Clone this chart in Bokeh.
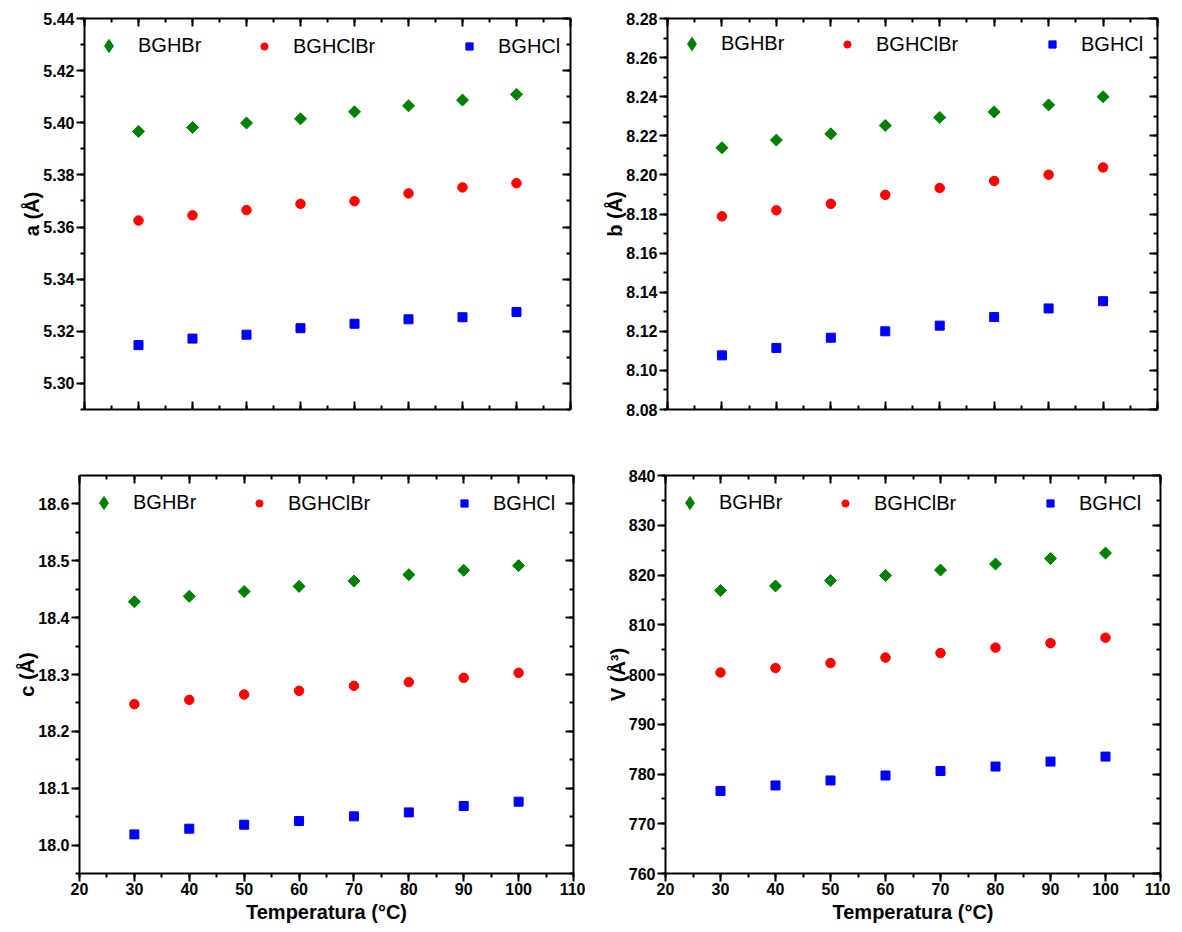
import math
from bokeh.plotting import figure
from bokeh.layouts import column, row
from bokeh.models import (LinearAxis, SingleIntervalTicker, Range1d, Legend, LegendItem,
                          CustomJSTickFormatter, NumeralTickFormatter)
from bokeh.embed import file_html
from bokeh.resources import INLINE

# ---------------- data ----------------
temperature = [30, 40, 50, 60, 70, 80, 90, 100]
series_names = ["BGHBr", "BGHClBr", "BGHCl"]

a_BGHBr = [5.3967, 5.3982, 5.3999, 5.4015, 5.4042, 5.4065, 5.4087, 5.4109]
a_BGHClBr = [5.3625, 5.3645, 5.3665, 5.3689, 5.3699, 5.3729, 5.3752, 5.3768]
a_BGHCl = [5.3147, 5.3172, 5.3187, 5.3212, 5.3229, 5.3246, 5.3254, 5.3274]

b_BGHBr = [8.2139, 8.2178, 8.2210, 8.2253, 8.2294, 8.2322, 8.2358, 8.2400]
b_BGHClBr = [8.1788, 8.1819, 8.1852, 8.1898, 8.1933, 8.1969, 8.2001, 8.2038]
b_BGHCl = [8.1077, 8.1115, 8.1167, 8.1200, 8.1229, 8.1273, 8.1317, 8.1354]

c_BGHBr = [18.428, 18.4375, 18.446, 18.455, 18.4645, 18.4756, 18.4833, 18.4915]
c_BGHClBr = [18.2478, 18.2554, 18.2648, 18.2713, 18.2801, 18.2866, 18.2942, 18.303]
c_BGHCl = [18.0188, 18.0288, 18.0358, 18.0423, 18.0505, 18.0575, 18.0687, 18.0763]

V_BGHBr = [816.9, 817.8, 818.9, 819.9, 821.0, 822.2, 823.3, 824.4]
V_BGHClBr = [800.4, 801.3, 802.3, 803.4, 804.3, 805.4, 806.3, 807.4]
V_BGHCl = [776.6, 777.7, 778.7, 779.7, 780.6, 781.5, 782.5, 783.5]

x_label = "Temperatura (°C)"
y_labels = ["a (Å)", "b (Å)", "c (Å)", "V (Å³)"]

# ---------------- style ----------------
FONT = "Liberation Sans"
GREEN = "#008000"
RED = "#FF0000"
BLUE = "#0000FF"


def style_axis(ax, ticker, fmt, tick_in, tick_out, show_labels):
    ax.ticker = ticker
    ax.axis_line_width = 2
    ax.axis_line_color = "black"
    ax.major_tick_line_width = 2
    ax.minor_tick_line_width = 2
    ax.major_tick_line_color = "black"
    ax.minor_tick_line_color = "black"
    ax.major_tick_in = tick_in
    ax.major_tick_out = tick_out
    ax.minor_tick_in = tick_in // 2
    ax.minor_tick_out = tick_out // 2
    ax.major_label_text_font = FONT
    ax.major_label_text_font_style = "bold"
    ax.major_label_text_color = "black"
    ax.axis_label_text_font = FONT
    ax.axis_label_text_font_style = "bold"
    ax.axis_label_text_font_size = "20px"
    ax.axis_label_text_color = "black"
    if show_labels:
        ax.formatter = fmt
        ax.major_label_text_font_size = "16px"
        ax.major_label_standoff = 2
    else:
        ax.formatter = CustomJSTickFormatter(code="return ''")
        ax.major_label_text_font_size = "0px"
        ax.major_label_standoff = 0


def make_panel(yvals, y_start, y_end, y_interval, y_fmt, ylabel, show_x,
               width, height, mb):
    p = figure(width=width, height=height, output_backend="svg",
               toolbar_location=None,
               x_range=Range1d(20, 110), y_range=Range1d(y_start, y_end),
               min_border_left=mb[0], min_border_right=mb[1],
               min_border_top=mb[2], min_border_bottom=mb[3],
               x_axis_location=None, y_axis_location=None)
    p.grid.visible = False
    p.outline_line_color = None
    p.background_fill_color = "white"
    p.border_fill_color = "white"

    xt = SingleIntervalTicker(interval=10, num_minor_ticks=2)
    yt = SingleIntervalTicker(interval=y_interval, num_minor_ticks=2)

    bottom = LinearAxis()
    style_axis(bottom, xt, NumeralTickFormatter(format="0"),
               0 if show_x else 8, 8 if show_x else 0, show_x)
    if show_x:
        bottom.axis_label = x_label
        bottom.axis_label_standoff = 3
        bottom.major_label_standoff = 1
    p.add_layout(bottom, "below")

    top = LinearAxis()
    style_axis(top, xt, None, 8, 0, False)
    p.add_layout(top, "above")

    left = LinearAxis(axis_label=ylabel)
    style_axis(left, yt, y_fmt, 0, 8, True)
    left.axis_label_standoff = -3
    p.add_layout(left, "left")

    right = LinearAxis()
    style_axis(right, yt, None, 8, 0, False)
    p.add_layout(right, "right")

    r1 = p.scatter(temperature, yvals[0], marker="square", angle=math.pi / 4,
                   size=8.5, color=GREEN)
    r2 = p.scatter(temperature, yvals[1], marker="circle", size=9.5, color=RED)
    r3 = p.scatter(temperature, yvals[2], marker="square", size=9, color=BLUE)
    # legend-only glyph for the diamond symbol (legend ignores marker angle);
    # NaN position so nothing is drawn inside the plot area
    r1_key = p.scatter(x=[float("nan")], y=[float("nan")], marker="diamond",
                       color=GREEN)

    fh = height - mb[2] - mb[3]
    # renderer, label, x offset, glyph width, glyph height, standoff
    specs = [(r1_key, series_names[0], 8, 33, 33, 13),
             (r2, series_names[1], 171, 18, 30, 20),
             (r3, series_names[2], 376, 18, 30, 20)]
    for r, name, x0, gw, gh, st in specs:
        lg = Legend(items=[LegendItem(label=name, renderers=[r], index=0)],
                    location=(x0, fh - 28 - gh // 2),
                    glyph_width=gw, glyph_height=gh, label_height=gh,
                    label_standoff=st, padding=0, margin=0,
                    border_line_color=None, background_fill_alpha=0,
                    label_text_font=FONT, label_text_font_size="20px",
                    label_text_color="black")
        p.add_layout(lg, "center")
    return p


p1 = make_panel([a_BGHBr, a_BGHClBr, a_BGHCl], 5.29, 5.44, 0.02,
                NumeralTickFormatter(format="0.00"), y_labels[0], False,
                582, 446, (84, 12, 18, 37))
p2 = make_panel([b_BGHBr, b_BGHClBr, b_BGHCl], 8.08, 8.28, 0.02,
                NumeralTickFormatter(format="0.00"), y_labels[1], False,
                585, 446, (85, 10, 17, 36))
p3 = make_panel([c_BGHBr, c_BGHClBr, c_BGHCl], 17.95, 18.65, 0.1,
                NumeralTickFormatter(format="0.0"), y_labels[2], True,
                585, 481, (79, 12, 29, 54))
p4 = make_panel([V_BGHBr, V_BGHClBr, V_BGHCl], 760, 840, 10,
                NumeralTickFormatter(format="0"), y_labels[3], True,
                585, 481, (80, 10, 29, 54))

layout = column(row(p1, p2), row(p3, p4))

open("out.html", "w").write(file_html(layout, INLINE))
